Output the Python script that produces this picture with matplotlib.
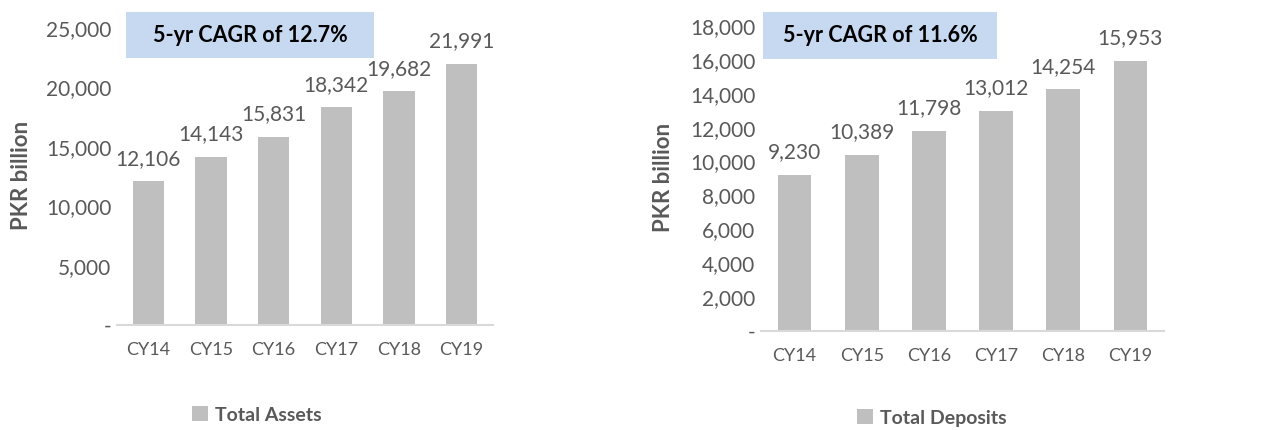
import matplotlib
matplotlib.use("Agg")
import matplotlib.pyplot as plt
from matplotlib.patches import Rectangle
from matplotlib.ticker import FuncFormatter

plt.rcParams['font.family'] = ['Lato', 'DejaVu Sans']

# data
years = ["CY14", "CY15", "CY16", "CY17", "CY18", "CY19"]
total_assets = [12106, 14143, 15831, 18342, 19682, 21991]
total_deposits = [9230, 10389, 11798, 13012, 14254, 15953]
assets_cagr = "5-yr CAGR of 12.7%"
deposits_cagr = "5-yr CAGR of 11.6%"

W, H = 1265, 430
BAR = "#BFBFBF"
TXT = "#595959"
BOX = "#C6D9F1"

fig = plt.figure(figsize=(W / 100, H / 100), dpi=100)


def px_axes(x0, y0, x1, y1):
    # pixel box (top-left origin) -> figure axes
    return fig.add_axes([x0 / W, 1 - y1 / H, (x1 - x0) / W, (y1 - y0) / H])


def fmt(v, pos):
    return "-" if v == 0 else f"{v:,.0f}"


def draw_panel(ax, values, ymax, step, label, cagr, box, legend_xy, ylab_x):
    bars = ax.bar(years, values, width=0.5, color=BAR, label=label, zorder=2)
    ax.set_xlim(-0.5, len(years) - 0.5)
    ax.set_ylim(0, ymax)
    ax.set_yticks(range(0, ymax + 1, step))
    ax.yaxis.set_major_formatter(FuncFormatter(fmt))
    for s in ["top", "right", "left"]:
        ax.spines[s].set_visible(False)
    ax.spines["bottom"].set_color("#D9D9D9")
    ax.spines["bottom"].set_linewidth(1.5)
    ax.tick_params(axis="both", length=0, colors=TXT)
    ax.tick_params(axis="x", pad=12, labelsize=13)
    ax.tick_params(axis="y", pad=4, labelsize=15)
    ax.set_ylabel("PKR billion", fontsize=16, fontweight="bold", color=TXT)
    ax.yaxis.set_label_coords(ylab_x, 0.5, transform=fig.transFigure)
    ax.yaxis.label.set_va("center")
    for b, v in zip(bars, values):
        ax.annotate(f"{v:,}", (b.get_x() + b.get_width() / 2, v), xytext=(0, 9),
                    textcoords="offset points", ha="center", va="bottom",
                    fontsize=15, color=TXT)
    x0, y0, x1, y1 = box
    fig.patches.append(Rectangle((x0 / W, 1 - y1 / H), (x1 - x0) / W, (y1 - y0) / H,
                                 transform=fig.transFigure, facecolor=BOX,
                                 edgecolor="none", zorder=3))
    fig.text((x0 + x1) / 2 / W, 1 - (y0 + y1) / 2 / H, cagr, ha="center", va="center",
             fontsize=15.5, fontweight="bold", color="black", zorder=4)
    ax.legend(loc="center", bbox_to_anchor=(legend_xy[0] / W, 1 - legend_xy[1] / H),
              bbox_transform=fig.transFigure, frameon=False, handlelength=0.8,
              handleheight=0.8, handletextpad=0.4,
              prop={"size": 14, "weight": "bold"}, labelcolor=TXT)


ax1 = px_axes(117, 28, 493, 325)
draw_panel(ax1, total_assets, 25000, 5000, "Total Assets", assets_cagr,
           (126, 12, 374, 58), (257, 415), 22 / W)
ax1.yaxis.label.set_position((22 / W, 1 - 175 / H))

ax2 = px_axes(761, 26, 1164, 331)
draw_panel(ax2, total_deposits, 18000, 2000, "Total Deposits", deposits_cagr,
           (763, 12, 997, 59), (932, 418), 663 / W)
ax2.yaxis.label.set_position((663 / W, 1 - 177 / H))

fig.savefig("out.png", dpi=100)
